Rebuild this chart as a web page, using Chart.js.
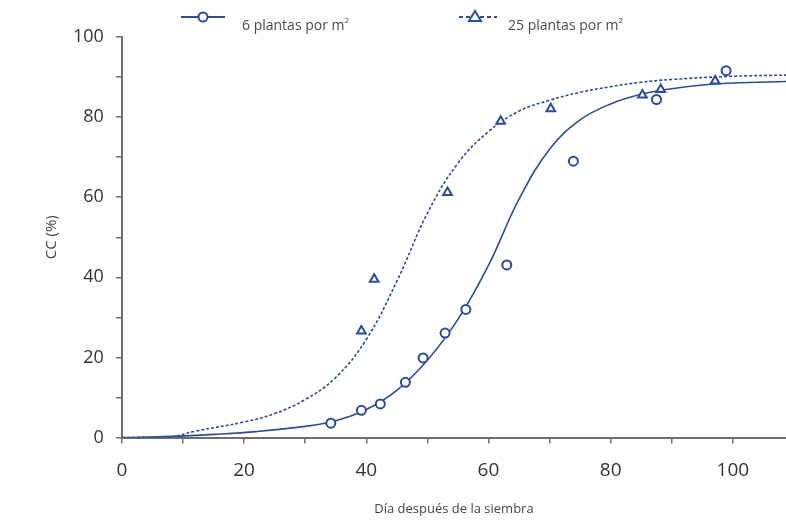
<!DOCTYPE html>
<html>
<head>
<meta charset="utf-8">
<script src="https://cdn.jsdelivr.net/npm/chart.js@4.4.1/dist/chart.umd.min.js"></script>
<style>
  html, body { margin: 0; padding: 0; background: #fff; }
  #wrap { position: relative; width: 786px; height: 521px; overflow: hidden; }
  #grafico { position: absolute; left: 0; top: 0; }
  .leyenda { position: absolute; top: 9px; font-family: "Open Sans", sans-serif; font-size: 14px; color: #4a4a4a; white-space: nowrap; }
  .leyenda svg { position: absolute; top: 0; }
  .leyenda span { position: absolute; top: 1px; line-height: 19px; }
  .leyenda sup { font-size: 8px; vertical-align: 7px; }
</style>
</head>
<body>
<div id="wrap">
  <canvas id="grafico" width="793" height="521"></canvas>
  <div class="leyenda" style="left:181px">
    <svg width="46" height="16" viewBox="0 0 46 16">
      <line x1="0" y1="8" x2="44" y2="8" stroke="#2f4f8a" stroke-width="2"/>
      <circle cx="22" cy="8" r="4.5" fill="#fff" stroke="#2a4c9c" stroke-width="2"/>
    </svg>
    <span style="left:61px">6 plantas por m<sup>2</sup></span>
  </div>
  <div class="leyenda" style="left:459px">
    <svg width="40" height="16" viewBox="0 0 40 16">
      <line x1="0" y1="8" x2="38" y2="8" stroke="#2f4f8a" stroke-width="2" stroke-dasharray="4,3"/>
      <polygon points="16,2 22,12 10,12" fill="#fff" stroke="#2a4c9c" stroke-width="2"/>
    </svg>
    <span style="left:49px">25 plantas por m<sup>2</sup></span>
  </div>
</div>
<script>
// observaciones, 6 plantas por m2
const dias6 = [34.2, 39.2, 42.3, 46.4, 49.3, 52.9, 56.3, 63.0, 73.9, 87.5, 98.9];
const cc6 = [3.6, 6.8, 8.4, 13.8, 19.9, 26.1, 32.0, 43.1, 69.0, 84.4, 91.6];

// observaciones, 25 plantas por m2
const dias25 = [39.2, 41.3, 53.3, 62.0, 70.2, 85.2, 88.2, 97.1];
const cc25 = [26.6, 39.5, 61.2, 79.0, 82.1, 85.5, 86.9, 89.0];

// curvas ajustadas
const curvaDias6 = [0, 8, 15, 22, 30, 35, 40, 45, 50, 55, 60, 65, 70, 75, 80, 85, 90, 95, 100, 109];
const curvaCc6 = [0, 0.3, 0.8, 1.5, 2.8, 4.2, 7.0, 11.8, 19.3, 29.5, 43, 59.5, 72, 79.3, 83.3, 85.7, 87.1, 88, 88.5, 88.9];

const curvaDias25 = [0, 8, 12, 20, 25, 30, 35, 40, 45, 50, 55, 60, 65, 70, 75, 80, 85, 90, 100, 109];
const curvaCc25 = [0, 0.2, 1.6, 3.9, 6, 9.5, 15, 24.5, 39, 56, 68.5, 76.4, 81.5, 84.2, 86.2, 87.6, 88.7, 89.4, 90.2, 90.5];

// marcas del eje x (cada 10) y las que llevan texto
const marcasX = [0, 10, 20, 30, 40, 50, 60, 70, 80, 90, 100];
const ticksX = [0, 20, 40, 60, 80, 100];
const ticksY = [0, 20, 40, 60, 80, 100];

const AZUL_LINEA = "#2f4f8a";
const AZUL_MARCA = "#2a4c9c";
const GRIS_EJE = "#6e6e6e";

const puntos = (xs, ys) => xs.map((x, i) => ({ x, y: ys[i] }));

const ctx = document.getElementById("grafico").getContext("2d");

new Chart(ctx, {
  type: "scatter",
  data: {
    datasets: [
      {
        label: "6 plantas por m²",
        data: puntos(dias6, cc6),
        pointStyle: "circle",
        pointRadius: 4.5,
        borderWidth: 2,
        borderColor: AZUL_MARCA,
        backgroundColor: "#fff",
        order: 0,
      },
      {
        label: "25 plantas por m²",
        data: puntos(dias25, cc25),
        pointStyle: "triangle",
        pointRadius: 5,
        borderWidth: 2,
        borderColor: AZUL_MARCA,
        backgroundColor: "#fff",
        order: 0,
      },
      {
        label: "ajuste 6",
        data: puntos(curvaDias6, curvaCc6),
        showLine: true,
        pointRadius: 0,
        borderColor: AZUL_LINEA,
        borderWidth: 1.6,
        tension: 0.4,
        order: 1,
      },
      {
        label: "ajuste 25",
        data: puntos(curvaDias25, curvaCc25),
        showLine: true,
        pointRadius: 0,
        borderColor: AZUL_LINEA,
        borderWidth: 1.6,
        borderDash: [3, 2],
        tension: 0.4,
        order: 1,
      },
    ],
  },
  options: {
    responsive: false,
    animation: false,
    layout: { padding: { left: 43, right: 0, top: 37, bottom: 4 } },
    plugins: {
      legend: { display: false },
      tooltip: { enabled: false },
    },
    scales: {
      x: {
        type: "linear",
        min: 0,
        max: 108.7,
        afterBuildTicks: (eje) => {
          eje.ticks = marcasX.map((v) => ({ value: v }));
        },
        ticks: {
          autoSkip: false,
          maxRotation: 0,
          padding: 16,
          color: "#333",
          font: { family: "Open Sans", size: 19 },
          callback: (v) => (ticksX.includes(v) ? String(v) : ""),
        },
        grid: { drawOnChartArea: false, tickLength: 6, color: GRIS_EJE, lineWidth: 1.5 },
        border: { display: true, color: GRIS_EJE, width: 2 },
        title: {
          display: true,
          text: "Día después de la siembra",
          color: "#444",
          font: { family: "Open Sans", size: 13 },
          padding: { top: 3, bottom: 0 },
        },
      },
      y: {
        min: 0,
        max: 100,
        ticks: {
          stepSize: 10,
          autoSkip: false,
          padding: 12,
          color: "#333",
          font: { family: "Open Sans", size: 18 },
          callback: (v) => (ticksY.includes(v) ? String(v) : ""),
        },
        grid: { drawOnChartArea: false, tickLength: 6, color: GRIS_EJE, lineWidth: 1.5 },
        border: { display: true, color: GRIS_EJE, width: 2 },
        title: {
          display: true,
          text: "CC (%)",
          color: "#444",
          font: { family: "Open Sans", size: 15 },
          padding: { top: 0, bottom: 0 },
        },
      },
    },
  },
});
</script>
</body>
</html>
